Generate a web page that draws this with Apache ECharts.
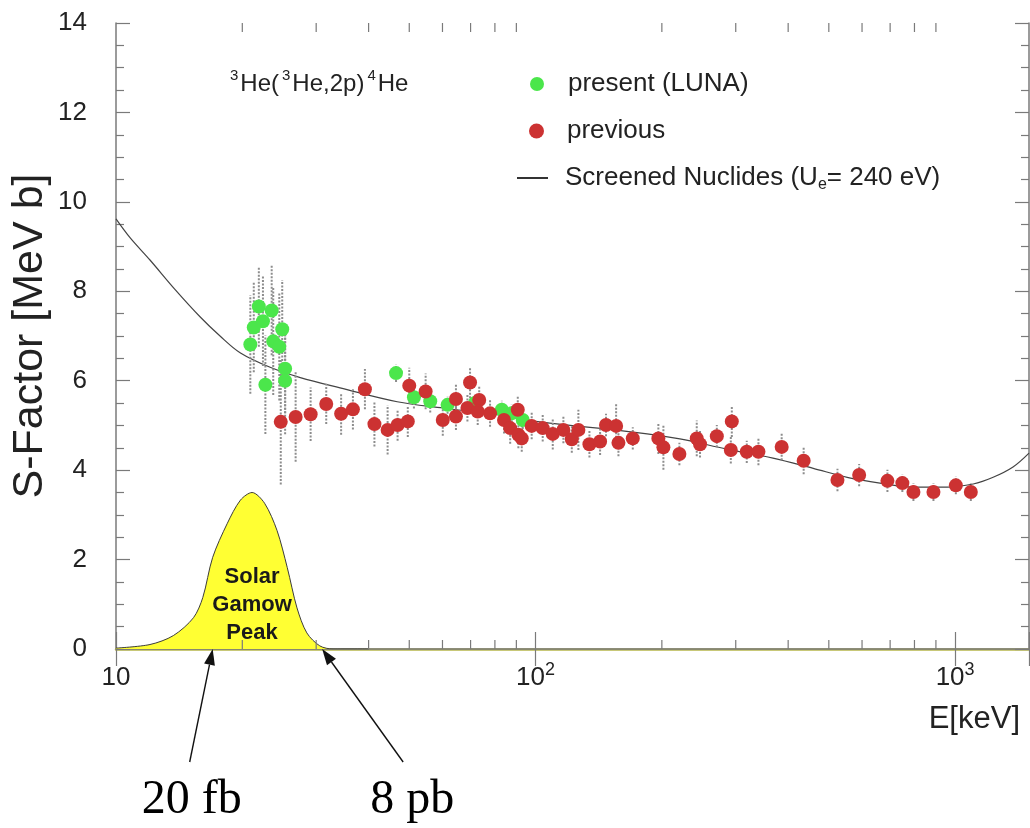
<!DOCTYPE html>
<html><head><meta charset="utf-8">
<script src="https://cdn.jsdelivr.net/npm/echarts@6/dist/echarts.min.js"></script>
<style>html,body{margin:0;padding:0;background:#fff}#c{width:1030px;height:828px}</style>
</head><body><div id="c"></div>
<script>
// ---------- data ----------
const xMinorTicks = [20,30,40,50,60,70,80,90,200,300,400,500,600,700,800,900];

const greenE   = [20.9, 21.9, 21.3, 22.4, 23.5, 23.7, 24.9, 24.5, 25.3, 22.7, 25.3, 46.5, 51.3, 56.1, 61.7, 71.7, 83.1, 87.7, 93.2];
const greenS   = [6.81, 7.66, 7.19, 7.33, 7.57, 6.88, 7.15, 6.76, 6.27, 5.91, 6.00, 6.17, 5.63, 5.54, 5.46, 5.50, 5.35, 5.27, 5.12];
const greenErr = [1.1, 0.9, 1.0, 1.0, 1.0, 1.2, 1.1, 1.2, 1.0, 1.1, 1.2, 0.2, 0.25, 0.25, 0.2, 0.2, 0.2, 0.2, 0.2];

const redE   = [24.7, 26.8, 29.1, 31.7, 34.4, 36.7, 39.2, 41.3, 44.4, 46.9, 49.6, 50.0, 54.7, 60.1, 64.6, 64.6, 69.8, 68.8, 73.4, 72.8, 77.9, 84.1, 87.0, 90.7, 91.0, 92.7, 97.9, 104.0, 109.9, 116.5, 122, 126.5, 134.4, 142.5, 147.2, 155.6, 157.6, 170.5, 196.2, 201.7, 220.2, 242.2, 246.6, 270.4, 293.6, 292, 318.7, 339.8, 386, 435.5, 524.3, 590.6, 689.7, 748.6, 795.5, 887.9, 1004, 1090];
const redS   = [5.08, 5.19, 5.25, 5.48, 5.26, 5.36, 5.81, 5.03, 4.90, 5.01, 5.09, 5.89, 5.76, 5.12, 5.59, 5.20, 5.96, 5.39, 5.57, 5.31, 5.27, 5.12, 4.94, 5.35, 4.79, 4.71, 4.99, 4.94, 4.81, 4.90, 4.69, 4.90, 4.58, 4.64, 5.01, 4.99, 4.61, 4.71, 4.71, 4.51, 4.36, 4.71, 4.58, 4.76, 5.09, 4.45, 4.41, 4.41, 4.52, 4.21, 3.78, 3.89, 3.76, 3.71, 3.51, 3.51, 3.66, 3.51];
const redErr = [1.4, 1.0, 0.6, 0.45, 0.47, 0.45, 0.45, 0.5, 0.55, 0.35, 0.35, 0.4, 0.4, 0.35, 0.35, 0.3, 0.35, 0.3, 0.3, 0.3, 0.3, 0.3, 0.35, 0.3, 0.3, 0.3, 0.3, 0.3, 0.35, 0.3, 0.3, 0.45, 0.3, 0.3, 0.25, 0.5, 0.3, 0.25, 0.35, 0.5, 0.25, 0.4, 0.3, 0.25, 0.35, 0.3, 0.25, 0.3, 0.3, 0.3, 0.25, 0.25, 0.25, 0.2, 0.2, 0.2, 0.2, 0.2];

const curveE = [10, 10.8, 12.05, 13.8, 15.9, 17.7, 19.8, 23.3, 27.5, 34.2, 46.8, 60.2, 81.0, 102.5, 170.6, 220.8, 285.8, 368, 459, 553, 662, 794, 957, 1104, 1232, 1374, 1500];
const curveS = [9.62, 9.2, 8.7, 8.05, 7.42, 7.0, 6.62, 6.3, 6.07, 5.84, 5.53, 5.39, 5.24, 5.08, 4.85, 4.70, 4.47, 4.27, 4.04, 3.84, 3.71, 3.62, 3.62, 3.69, 3.84, 4.07, 4.38];

const gamowE = [10, 12.05, 13.7, 15.3, 16.1, 17.0, 18.4, 19.8, 21.1, 22.6, 24.2, 25.6, 27.0, 28.5, 30.6, 32.9, 40];
const gamowS = [0.02, 0.1, 0.3, 0.7, 1.15, 2.05, 2.8, 3.33, 3.5, 3.26, 2.65, 1.82, 0.92, 0.36, 0.07, 0, 0];

const seriesNames = ['present (LUNA)', 'previous', 'Screened Nuclides (Ue= 240 eV)'];
const gamowLabel = 'Solar\nGamow\nPeak';
const gamowLabelAt = [21.1, 0.98];
const arrowNotes = [ {text: '20 fb', tipE: 17.0}, {text: '8 pb', tipE: 31.0} ];

// ---------- chart ----------
const SANS = 'Liberation Sans, Arial, Helvetica, sans-serif';
const SERIF = 'Liberation Serif, Times New Roman, serif';
const FRAME = '#7a7a7a';

const zip = (a, b) => a.map((v, i) => [v, b[i]]);
const errData = (E, S, err) => E.map((e, i) => [e, S[i] - err[i], S[i] + err[i]]);
const errRender = (params, api) => {
  const lo = api.coord([api.value(0), api.value(1)]);
  const hi = api.coord([api.value(0), api.value(2)]);
  return {type: 'line', shape: {x1: lo[0], y1: lo[1], x2: hi[0], y2: hi[1]},
          style: {stroke: '#8d8d8d', lineWidth: 2, lineDash: [2, 1.5]}};
};
const logLabel = v => {
  const l = Math.log10(v), p = Math.round(l);
  if (Math.abs(l - p) > 1e-6) return '';
  return p === 1 ? '{n|10}' : '{n|10}{s|' + p + '}';
};

const chart = echarts.init(document.getElementById('c'), null, {renderer: 'canvas'});
const legendText = pad => ({fontFamily: SANS, fontSize: 26, color: '#222', padding: [0, 0, 0, pad],
  rich: {n: {fontFamily: SANS, fontSize: 26, lineHeight: 30, color: '#222'},
         sub: {fontFamily: SANS, fontSize: 16, verticalAlign: 'bottom', color: '#222'}}});
const legendBase = {orient: 'vertical', padding: 0, selectedMode: false, itemGap: 0};

chart.setOption({
  animation: false,
  backgroundColor: '#fff',
  title: [{
    text: '{s|3}{n|He(}{s|3}{n|He,2p)}{s|4}{n|He}',
    left: 227, top: 68, padding: 0,
    textStyle: {fontWeight: 'normal', rich: {
      n: {fontFamily: SANS, fontSize: 24, fontWeight: 'normal', lineHeight: 32, color: '#222'},
      s: {fontFamily: SANS, fontSize: 15, fontWeight: 'normal', verticalAlign: 'top', color: '#222', padding: [0, 2, 0, 3]}}}
  }],
  legend: [
    Object.assign({}, legendBase, {left: 530, top: 71, itemWidth: 14, itemHeight: 14, textStyle: legendText(19),
      data: [{name: seriesNames[0], icon: 'circle'}], formatter: n => '{n|' + n + '}'}),
    Object.assign({}, legendBase, {left: 529, top: 118, itemWidth: 15, itemHeight: 15, textStyle: legendText(18),
      data: [{name: seriesNames[1], icon: 'circle'}], formatter: n => '{n|' + n + '}'}),
    Object.assign({}, legendBase, {left: 517, top: 165, itemWidth: 31, itemHeight: 2, textStyle: legendText(12),
      data: [{name: seriesNames[2], icon: 'rect'}],
      formatter: () => '{n|Screened Nuclides (U}{sub|e}{n|= 240 eV)}'})
  ],
  grid: {left: 116, right: 1, top: 23, bottom: 179, containLabel: false, outerBoundsMode: 'none'},
  xAxis: [{
    type: 'log', logBase: 10, min: 10, max: 1500, position: 'bottom',
    axisLine: {show: true, lineStyle: {color: '#b7b64c', width: 2.5}},
    axisTick: {show: true, inside: true, length: 17, lineStyle: {color: FRAME, width: 1.2}},
    axisLabel: {formatter: logLabel, margin: 12, showMinLabel: true, showMaxLabel: true,
      rich: {n: {fontFamily: SANS, fontSize: 26, lineHeight: 34, color: '#222'},
             s: {fontFamily: SANS, fontSize: 18, verticalAlign: 'top', color: '#222'}}},
    splitLine: {show: false}, minorTick: {show: false},
    name: 'E[keV]', nameLocation: 'end', nameGap: -9, nameMoveOverlap: false,
    nameTextStyle: {fontFamily: SANS, fontSize: 31, color: '#222', align: 'right', verticalAlign: 'top', padding: [55, 0, 0, 0]}
  }, {
    type: 'log', logBase: 10, min: 10, max: 1500, position: 'top',
    axisLine: {show: true, lineStyle: {color: FRAME, width: 1.5}},
    axisTick: {show: true, inside: true, length: 17, lineStyle: {color: FRAME, width: 1.2}},
    axisLabel: {show: false}, splitLine: {show: false}
  }],
  yAxis: [{
    type: 'value', min: 0, max: 14, interval: 2, position: 'left',
    axisLine: {show: true, lineStyle: {color: FRAME, width: 1.5}},
    axisTick: {show: true, inside: true, length: 14, lineStyle: {color: FRAME, width: 1.2}},
    minorTick: {show: true, splitNumber: 4, length: 8, lineStyle: {color: FRAME, width: 1.2}},
    axisLabel: {fontFamily: SANS, fontSize: 26, color: '#222', margin: 29},
    splitLine: {show: false},
    name: 'S-Factor [MeV b]', nameLocation: 'middle', nameGap: 64, nameMoveOverlap: false,
    nameTextStyle: {fontFamily: SANS, fontSize: 43, color: '#222'}
  }, {
    type: 'value', min: 0, max: 14, interval: 2, position: 'right',
    axisLine: {show: true, lineStyle: {color: FRAME, width: 1.5}},
    axisTick: {show: true, inside: true, length: 14, lineStyle: {color: FRAME, width: 1.2}},
    minorTick: {show: true, splitNumber: 4, length: 8, lineStyle: {color: FRAME, width: 1.2}},
    axisLabel: {show: false}, splitLine: {show: false}
  }],
  series: [
    {type: 'line', name: 'gamow', data: zip(gamowE, gamowS), showSymbol: false, smooth: 0.3,
     lineStyle: {color: '#3c3c3c', width: 1}, areaStyle: {color: '#ffff33', opacity: 1},
     itemStyle: {color: '#ffff33'}, z: 1, silent: true},
    {type: 'custom', name: 'minorTicks', data: xMinorTicks.map(v => [v, 0]), encode: {x: 0, y: 1}, z: 2, silent: true,
     renderItem: (params, api) => {
       const v = api.value(0), b = api.coord([v, 0]), t = api.coord([v, 14]);
       const st = {stroke: FRAME, lineWidth: 1.2};
       return {type: 'group', children: [
         {type: 'line', shape: {x1: b[0], y1: b[1], x2: b[0], y2: b[1] - 9}, style: st},
         {type: 'line', shape: {x1: t[0], y1: t[1], x2: t[0], y2: t[1] + 9}, style: st}]};
     }},
    {type: 'line', name: seriesNames[2], data: zip(curveE, curveS), showSymbol: false, smooth: 0.35,
     lineStyle: {color: '#444', width: 1.2}, itemStyle: {color: '#333'}, z: 3},
    {type: 'custom', name: 'errLUNA', data: errData(greenE, greenS, greenErr), encode: {x: 0, y: [1, 2]},
     renderItem: errRender, z: 4, silent: true, clip: true},
    {type: 'custom', name: 'errPrev', data: errData(redE, redS, redErr), encode: {x: 0, y: [1, 2]},
     renderItem: errRender, z: 4, silent: true, clip: true},
    {type: 'scatter', name: seriesNames[0], data: zip(greenE, greenS), symbol: 'circle', symbolSize: 14,
     itemStyle: {color: '#4be64b', opacity: 1}, z: 5},
    {type: 'scatter', name: seriesNames[1], data: zip(redE, redS), symbol: 'circle', symbolSize: 14,
     itemStyle: {color: '#cc3232', opacity: 1}, z: 6}
  ]
});

// ---------- annotations placed through the axes ----------
const px = d => chart.convertToPixel({xAxisIndex: 0, yAxisIndex: 0}, d);
const graphics = [];
const gl = px(gamowLabelAt);
graphics.push({type: 'text', z: 20, style: {x: gl[0], y: gl[1], text: gamowLabel, align: 'center', verticalAlign: 'middle',
  font: 'bold 22px ' + SANS, lineHeight: 28, fill: '#1a1a1a'}});
const arrowOffsets = [[-23, 113], [81, 113]];
const textOffsets = [[2, 38], [9, 38]];
arrowNotes.forEach((a, i) => {
  const tip = px([a.tipE, 0]);
  const tail = [tip[0] + arrowOffsets[i][0], tip[1] + arrowOffsets[i][1]];
  const dx = tip[0] - tail[0], dy = tip[1] - tail[1], L = Math.hypot(dx, dy);
  const ux = dx / L, uy = dy / L, hl = 16, hw = 5.5;
  const bx = tip[0] - ux * hl, by = tip[1] - uy * hl;
  graphics.push({type: 'line', z: 20, shape: {x1: tail[0], y1: tail[1], x2: bx, y2: by}, style: {stroke: '#111', lineWidth: 1.4}});
  graphics.push({type: 'polygon', z: 20, shape: {points: [[tip[0], tip[1]], [bx - uy * hw, by + ux * hw], [bx + uy * hw, by - ux * hw]]}, style: {fill: '#111'}});
  graphics.push({type: 'text', z: 20, style: {x: tail[0] + textOffsets[i][0], y: tail[1] + textOffsets[i][1], text: a.text,
    align: 'center', verticalAlign: 'middle', font: '48px ' + SERIF, fill: '#000'}});
});
chart.setOption({graphic: graphics});
</script>
</body></html>
